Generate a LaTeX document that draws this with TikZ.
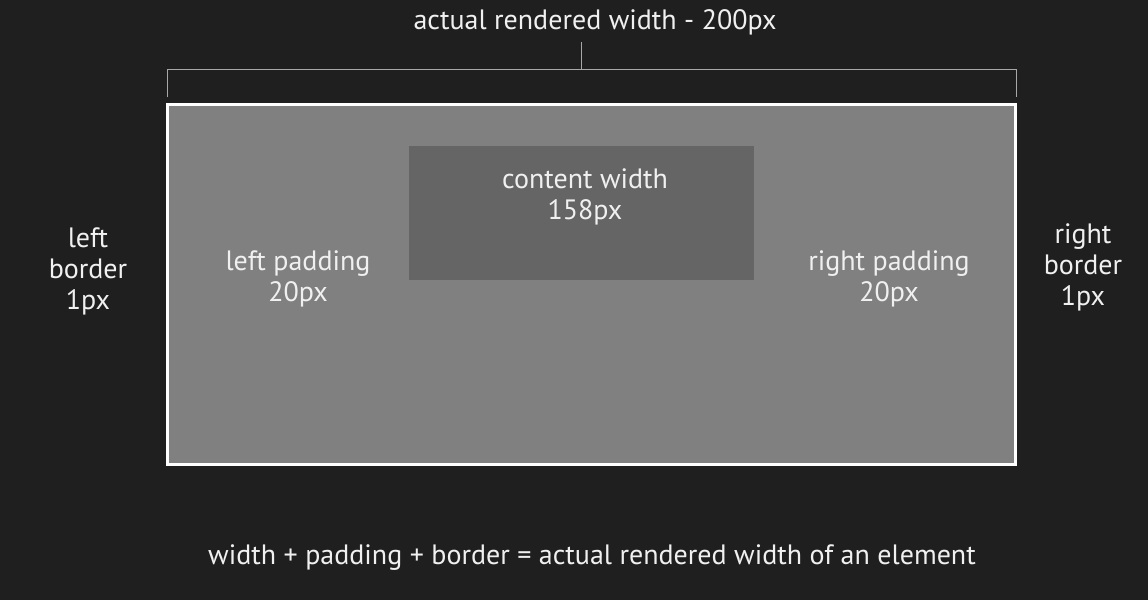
\documentclass[tikz,border=0pt]{standalone}
\usepackage{fontspec}
\setmainfont{PT Sans}
\definecolor{bg}{HTML}{1F1F1F}
\definecolor{outerfill}{HTML}{808080}
\definecolor{innerfill}{HTML}{656565}
\definecolor{txt}{HTML}{F0F0F0}
\definecolor{brk}{HTML}{A8A8A8}
\tikzset{
  lbl/.style={text=txt, font=\fontsize{28}{31}\selectfont, align=center, inner sep=0pt},
  brline/.style={draw=brk, line width=1pt},
}
\begin{document}
\begin{tikzpicture}[x=1pt,y=-1pt]
\fill[bg] (0,0) rectangle (1148,600);
\useasboundingbox (0,0) rectangle (1148,600);
% outer box
\node[draw=white, line width=3pt, fill=outerfill, minimum width=848pt, minimum height=360pt, inner sep=0pt, outer sep=0pt, anchor=north west] (outer) at (167.5,104.5) {};
% content box
\node[fill=innerfill, minimum width=345pt, minimum height=134pt, inner sep=0pt, outer sep=0pt, anchor=north west] (content) at (409,146) {};
% bracket
\coordinate (bl) at (167,97);
\coordinate (br) at (1016,97);
\coordinate (tl) at (167,69);
\coordinate (tr) at (1016,69);
\coordinate (tm) at (581,69);
\coordinate (tt) at (581,42);
\node[lbl] (title) at (595,22) {actual rendered width - 200px};
\draw[brline] (bl) -- (tl) -- (tr) -- (br);
\draw[brline] (tm) -- (tt);
% labels
\node[lbl] (cw) at (585,197) {content width\\158px};
\node[lbl] (lp) at (298,279) {left padding\\20px};
\node[lbl] (rp) at (889,279) {right padding\\20px};
\node[lbl] (lb) at (88,271) {left\\border\\1px};
\node[lbl] (rb) at (1083,267) {right\\border\\1px};
\node[lbl] (eq) at (592,558) {width + padding + border = actual rendered width of an element};
\end{tikzpicture}
\end{document}
